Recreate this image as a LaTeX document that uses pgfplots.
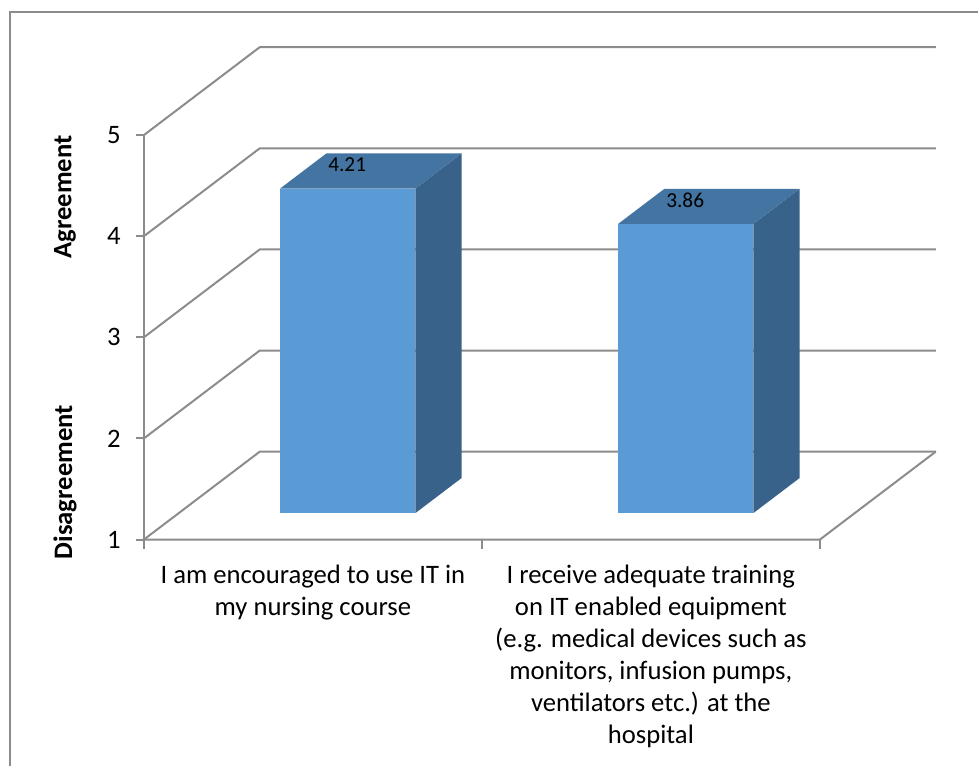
\documentclass[border=0pt]{standalone}
\usepackage{fontspec}
\setmainfont{Carlito}
\usepackage{pgfplots}
\pgfplotsset{compat=1.18}

\definecolor{barfront}{RGB}{91,155,213}
\definecolor{bartop}{RGB}{68,116,162}
\definecolor{barside}{RGB}{56,98,137}
\definecolor{gridgray}{RGB}{140,140,140}
\definecolor{framegray}{RGB}{140,140,140}

\begin{document}
\begin{tikzpicture}
\begin{axis}[
  x={(253.7pt,0pt)}, y={(87pt,66pt)}, z={(0pt,75.9pt)},
  xmin=0, xmax=2, ymin=0, ymax=1, zmin=1, zmax=5,
  hide axis, clip=false,
  every axis plot/.append style={line join=miter},
]
% back wall and left wall gridlines
\pgfplotsinvokeforeach{1,2,3,4,5}{
  \addplot3[draw=gridgray, line width=1.5pt] coordinates {(0,0,#1) (0,1,#1) (2,1,#1)};
}
% floor: front edge (category axis) and right edge
\addplot3[draw=gridgray, line width=1.5pt] coordinates {(0,0,1) (2,0,1) (2,1,1)};
% value axis
\addplot3[draw=gridgray, line width=1.5pt] coordinates {(0,0,1) (0,0,5)};
% value axis ticks and their labels
\pgfplotsinvokeforeach{1,2,3,4,5}{
  \addplot3[draw=gridgray, line width=1.5pt] coordinates {(-0.024,0,#1) (0,0,#1)};
  \node[font=\fontsize{20}{24}\selectfont, inner sep=0pt, anchor=east, xshift=-17.25pt] at (axis cs:0,0,#1) {#1};
}
% category axis ticks
\pgfplotsinvokeforeach{0,1,2}{
  \addplot3[draw=gridgray, line width=1.5pt] coordinates {(#1,0,1) (#1,0,0.91)};
}

% bar 1: 4.21
\addplot3[fill=barfront, draw=none] coordinates {(0.3,0.3,1) (0.7,0.3,1) (0.7,0.3,4.21) (0.3,0.3,4.21)};
\addplot3[fill=barside, draw=none] coordinates {(0.7,0.3,1) (0.7,0.7,1) (0.7,0.7,4.21) (0.7,0.3,4.21)};
\addplot3[fill=bartop, draw=none] coordinates {(0.3,0.3,4.21) (0.7,0.3,4.21) (0.7,0.7,4.21) (0.3,0.7,4.21)};
% bar 2: 3.86
\addplot3[fill=barfront, draw=none] coordinates {(1.3,0.3,1) (1.7,0.3,1) (1.7,0.3,3.86) (1.3,0.3,3.86)};
\addplot3[fill=barside, draw=none] coordinates {(1.7,0.3,1) (1.7,0.7,1) (1.7,0.7,3.86) (1.7,0.3,3.86)};
\addplot3[fill=bartop, draw=none] coordinates {(1.3,0.3,3.86) (1.7,0.3,3.86) (1.7,0.7,3.86) (1.3,0.7,3.86)};

% data labels
\node[font=\fontsize{16}{19}\selectfont, inner sep=0pt] at (axis cs:0.407,0.567,4.21) {4.21};
\node[font=\fontsize{16}{19}\selectfont, inner sep=0pt] at (axis cs:1.407,0.567,3.86) {3.86};

% axis titles
\node[font=\fontsize{20}{24}\selectfont\bfseries, rotate=90, inner sep=0pt] at ([xshift=-59.25pt]axis cs:0,0,4.389) {Agreement};
\node[font=\fontsize{20}{24}\selectfont\bfseries, rotate=90, inner sep=0pt] at ([xshift=-59.25pt]axis cs:0,0,1.568) {Disagreement};

% category labels
\node[font=\fontsize{20}{24}\selectfont, align=center, anchor=north, inner sep=0pt, yshift=-19.2pt] at (axis cs:0.5,0,1)
  {I am encouraged to use IT in\\my nursing course};
\node[font=\fontsize{20}{24}\selectfont, align=center, anchor=north, inner sep=0pt, yshift=-19.2pt] at (axis cs:1.5,0,1)
  {I receive adequate training\\on IT enabled equipment\\(e.g. medical devices such as\\monitors, infusion pumps,\\ventilators etc.) at the\\hospital};

\coordinate (O) at (axis cs:0,0,1);
\end{axis}
% chart frame (top and left edges)
\draw[framegray, line width=1.2pt] ([shift={(-100.5pt,-170.25pt)}]O) -- ([shift={(-100.5pt,396pt)}]O) -- ([shift={(626.25pt,396pt)}]O);
\useasboundingbox ([shift={(-108pt,-170.25pt)}]O) rectangle ([shift={(626.25pt,405pt)}]O);
\end{tikzpicture}
\end{document}
